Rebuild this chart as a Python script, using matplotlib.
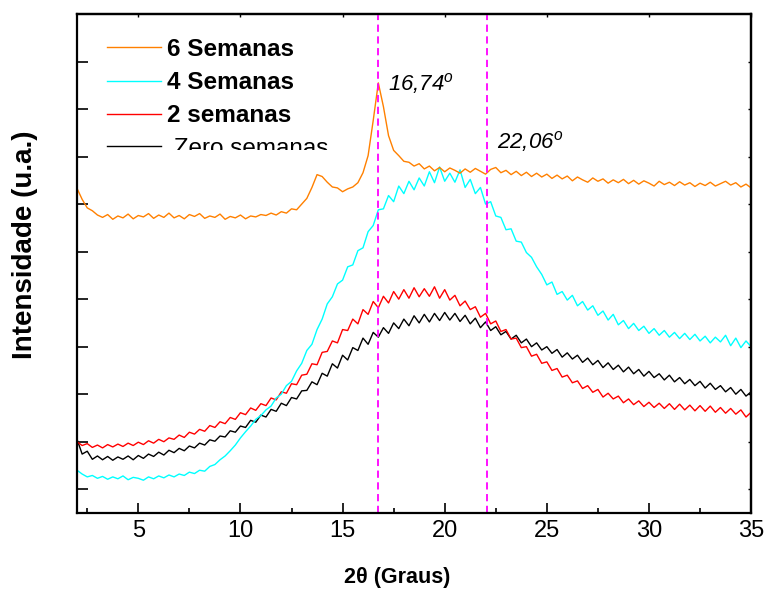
#!/usr/bin/env python3

"""
DRX das amostras ao longo do tempo (0, 2, 4 e 6 semanas)
"""

import numpy as np
import matplotlib
matplotlib.use("Agg")
import matplotlib.pyplot as plt
from matplotlib.transforms import Bbox, TransformedBbox

# 2theta (graus), passo de 0.25
two_theta = np.linspace(2.0, 35.0, 133)

# intensidades (u.a.), uma linha por intervalo de 2 graus
intens_6 = [
	6.83, 6.60, 6.42, 6.36, 6.27, 6.22, 6.28, 6.18,
	6.25, 6.21, 6.29, 6.19, 6.26, 6.23, 6.30, 6.20,
	6.27, 6.22, 6.31, 6.21, 6.26, 6.19, 6.28, 6.24,
	6.30, 6.20, 6.25, 6.22, 6.29, 6.18, 6.24, 6.21,
	6.27, 6.19, 6.25, 6.23, 6.28, 6.26, 6.31, 6.27,
	6.34, 6.31, 6.40, 6.38, 6.50, 6.62, 6.85, 7.12,
	7.08, 6.96, 6.86, 6.84, 6.76, 6.82, 6.86, 6.95,
	7.16, 7.52, 8.26, 9.05, 8.55, 7.94, 7.63, 7.52,
	7.40, 7.38, 7.30, 7.35, 7.24, 7.30, 7.20, 7.27,
	7.18, 7.26, 7.21, 7.15, 7.24, 7.17, 7.25, 7.19,
	7.13, 7.23, 7.27, 7.16, 7.21, 7.12, 7.19, 7.10,
	7.17, 7.08, 7.15, 7.07, 7.13, 7.04, 7.11, 7.03,
	7.09, 6.99, 7.07, 7.01, 6.96, 7.05, 6.98, 7.03,
	6.94, 7.01, 6.95, 7.02, 6.93, 7.00, 6.92, 6.99,
	6.94, 6.88, 6.98, 6.91, 6.96, 6.89, 6.97, 6.90,
	6.95, 6.87, 6.94, 6.89, 6.96, 6.88, 6.93, 6.98,
	6.90, 6.95, 6.86, 6.92, 6.84,
]

intens_4 = [
	0.90, 0.82, 0.76, 0.79, 0.73, 0.77, 0.71, 0.76,
	0.72, 0.78, 0.70, 0.75, 0.73, 0.69, 0.76, 0.72,
	0.78, 0.74, 0.80, 0.76, 0.82, 0.79, 0.86, 0.83,
	0.90, 0.88, 0.98, 1.02, 1.12, 1.20, 1.31, 1.43,
	1.58, 1.71, 1.83, 1.97, 2.05, 2.17, 2.25, 2.42,
	2.50, 2.68, 2.77, 2.99, 3.15, 3.42, 3.55, 3.86,
	4.08, 4.40, 4.55, 4.82, 4.90, 5.18, 5.22, 5.52,
	5.58, 5.92, 6.05, 6.38, 6.40, 6.68, 6.55, 6.88,
	6.72, 6.98, 6.80, 7.05, 6.88, 7.18, 6.95, 7.28,
	6.98, 7.15, 6.96, 7.22, 6.85, 7.02, 6.72, 6.85,
	6.50, 6.55, 6.25, 6.22, 5.96, 5.98, 5.72, 5.70,
	5.48, 5.38, 5.18, 5.02, 4.80, 4.86, 4.60, 4.66,
	4.48, 4.58, 4.36, 4.45, 4.27, 4.36, 4.16, 4.25,
	4.06, 4.18, 3.96, 4.05, 3.88, 3.99, 3.84, 3.93,
	3.78, 3.88, 3.74, 3.84, 3.70, 3.80, 3.67, 3.78,
	3.65, 3.76, 3.62, 3.72, 3.58, 3.70, 3.60, 3.74,
	3.52, 3.68, 3.48, 3.62, 3.50,
]

intens_2 = [
	1.50, 1.42, 1.46, 1.38, 1.43, 1.37, 1.44, 1.39,
	1.45, 1.40, 1.47, 1.42, 1.49, 1.44, 1.52, 1.47,
	1.55, 1.50, 1.58, 1.55, 1.64, 1.59, 1.70, 1.66,
	1.76, 1.72, 1.84, 1.80, 1.92, 1.88, 2.01, 1.97,
	2.11, 2.07, 2.21, 2.16, 2.30, 2.26, 2.42, 2.38,
	2.55, 2.52, 2.72, 2.70, 2.90, 2.92, 3.14, 3.12,
	3.38, 3.40, 3.62, 3.58, 3.86, 3.84, 4.08, 3.98,
	4.28, 4.18, 4.45, 4.32, 4.56, 4.42, 4.66, 4.50,
	4.70, 4.52, 4.74, 4.55, 4.72, 4.56, 4.76, 4.52,
	4.70, 4.48, 4.58, 4.36, 4.46, 4.28, 4.34, 4.12,
	4.20, 3.98, 4.04, 3.82, 3.86, 3.66, 3.68, 3.48,
	3.50, 3.30, 3.34, 3.15, 3.18, 3.00, 3.04, 2.86,
	2.90, 2.74, 2.78, 2.62, 2.68, 2.54, 2.60, 2.44,
	2.52, 2.40, 2.46, 2.32, 2.40, 2.28, 2.36, 2.24,
	2.33, 2.22, 2.31, 2.20, 2.30, 2.18, 2.29, 2.17,
	2.27, 2.15, 2.26, 2.14, 2.25, 2.12, 2.22, 2.10,
	2.20, 2.08, 2.17, 2.02, 2.12,
]

intens_0 = [
	1.55, 1.24, 1.30, 1.13, 1.20, 1.12, 1.19, 1.11,
	1.18, 1.13, 1.20, 1.12, 1.21, 1.15, 1.24, 1.19,
	1.28, 1.22, 1.32, 1.27, 1.36, 1.31, 1.41, 1.37,
	1.47, 1.43, 1.54, 1.51, 1.62, 1.60, 1.73, 1.70,
	1.83, 1.80, 1.95, 1.91, 2.06, 2.02, 2.18, 2.14,
	2.31, 2.26, 2.43, 2.40, 2.57, 2.58, 2.76, 2.70,
	2.94, 2.88, 3.14, 3.05, 3.32, 3.22, 3.48, 3.42,
	3.68, 3.55, 3.80, 3.70, 3.90, 3.78, 4.00, 3.88,
	4.08, 3.94, 4.15, 4.00, 4.18, 4.02, 4.20, 4.05,
	4.22, 4.06, 4.20, 4.03, 4.16, 3.98, 4.10, 3.90,
	4.02, 3.84, 3.92, 3.75, 3.82, 3.66, 3.74, 3.58,
	3.66, 3.50, 3.58, 3.43, 3.50, 3.36, 3.44, 3.28,
	3.37, 3.24, 3.32, 3.17, 3.26, 3.12, 3.21, 3.06,
	3.16, 3.02, 3.11, 2.97, 3.07, 2.93, 3.02, 2.88,
	2.98, 2.85, 2.93, 2.80, 2.90, 2.76, 2.85, 2.72,
	2.81, 2.68, 2.77, 2.63, 2.73, 2.60, 2.68, 2.55,
	2.64, 2.50, 2.60, 2.46, 2.55,
]

# picos marcados
peaks = [16.74, 22.06]
peak_labels = ["16,74$^o$", "22,06$^o$"]
peak_label_y = [8.89, 7.67]

series = [
	(intens_0, "black", " Zero semanas"),
	(intens_2, "#ff0000", "2 semanas"),
	(intens_4, "#00ffff", "4 Semanas"),
	(intens_6, "#ff8000", "6 Semanas"),
]

matplotlib.rcParams.update({
	'font.family': ['Liberation Sans', 'DejaVu Sans'],
	'mathtext.fontset': 'custom',
	'mathtext.rm': 'Liberation Sans',
	'mathtext.it': 'Liberation Sans:italic',
	'axes.linewidth': 1.6,
})

fig = plt.figure(figsize=(7.68, 5.95), dpi=100)
ax = fig.add_axes([0.1003, 0.1378, 0.8777, 0.8387])

handles = []
for y, c, lbl in series:
	ln, = ax.plot(two_theta, y, color=c, lw=1.0, label=lbl)
	handles.append(ln)

for p, txt, ty in zip(peaks, peak_labels, peak_label_y):
	ax.axvline(p, color="#ff00ff", lw=1.3, ls=(0, (4, 2.5)))
	ax.annotate(txt, xy=(p, ty), xytext=(7, 0), textcoords="offset points",
		fontsize=16, fontstyle="italic", ha="left", va="baseline")

ax.set_xlim(2, 35)
ax.set_ylim(0, 10.5)
ax.set_xticks([5, 10, 15, 20, 25, 30, 35])
ax.set_xticks(np.arange(2.5, 35, 5), minor=True)
ax.set_yticks(np.arange(0.5, 10, 1.0))
ax.tick_params(axis="x", which="major", direction="in", length=7, width=1.2,
	labelsize=17, pad=5)
ax.tick_params(axis="x", which="minor", direction="in", length=3.5, width=1.2)
ax.tick_params(axis="y", which="major", direction="in", length=8, width=1.2,
	labelleft=False)

# ticks curtos no topo e a direita
top = ax.secondary_xaxis("top")
top.set_xticks([5, 10, 15, 20, 25, 30, 35])
top.tick_params(direction="in", length=2.5, width=1.0, labeltop=False)
right = ax.secondary_yaxis("right")
right.set_yticks(np.arange(0.5, 10, 1.0))
right.tick_params(direction="in", length=2.5, width=1.0, labelright=False)

ax.set_xlabel("2θ (Graus)", fontsize=15.5, fontweight="bold")
ax.xaxis.set_label_coords(0.475, -0.13)
ax.xaxis.label.set_va("center")
ax.set_ylabel("Intensidade (u.a.)", fontsize=20, fontweight="bold")
ax.yaxis.set_label_coords(-0.077, 0.537)
ax.yaxis.label.set_va("center")

leg = ax.legend(handles[::-1], [h.get_label() for h in handles[::-1]],
	loc="upper left", bbox_to_anchor=(0.045, 0.952), frameon=False,
	fontsize=17.5, handlelength=2.2, handletextpad=0.25, labelspacing=0.42,
	borderpad=0, borderaxespad=0)
texts = leg.get_texts()
for t in texts[:3]:
	t.set_fontweight("bold")

# ultima entrada cortada pela metade
fig.canvas.draw()
zero = texts[3]
ext = zero.get_window_extent()
cut = ext.y0 + 0.45 * ext.height
clip = TransformedBbox(Bbox([[0, cut / fig.bbox.height], [1, 1]]), fig.transFigure)
zero.set_clip_box(clip)
zero.set_clip_on(True)

fig.savefig("out.png", dpi=100)
